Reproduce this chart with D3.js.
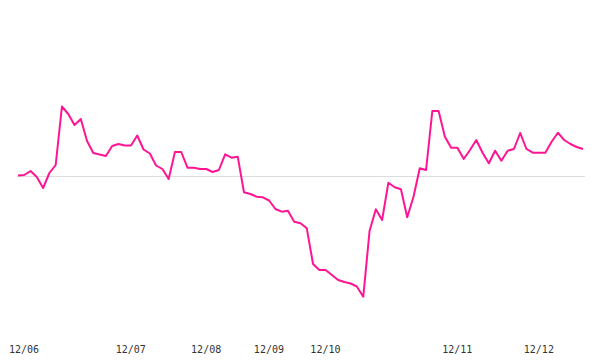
<!DOCTYPE html>
<html>
<head>
<meta charset="utf-8">
<script src="https://cdn.jsdelivr.net/npm/d3@7"></script>
<style>
  html, body { margin: 0; padding: 0; background: #fff; }
  svg { display: block; }
</style>
</head>
<body>
<svg id="chart" width="600" height="360"></svg>
<script>
// Relative change series (one value per data point)
const values = [
  0.05, 0.1, 0.5, -0.1, -1.2, 0.3, 1.1, 6.95, 6.2, 5.1,
  5.7, 3.5, 2.3, 2.15, 2.0, 3.0, 3.2, 3.05, 3.05, 4.05,
  2.65, 2.25, 1.05, 0.7, -0.3, 2.4, 2.4, 0.83, 0.83, 0.7,
  0.7, 0.4, 0.6, 2.17, 1.83, 1.93, -1.63, -1.8, -2.07, -2.13,
  -2.45, -3.3, -3.57, -3.47, -4.57, -4.73, -5.23, -8.8, -9.4, -9.4,
  -9.9, -10.4, -10.6, -10.75, -11.07, -12.07, -5.5, -3.33, -4.4, -0.67,
  -1.13, -1.33, -4.13, -2.07, 0.77, 0.6, 6.5, 6.5, 3.93, 2.83,
  2.83, 1.7, 2.6, 3.6, 2.33, 1.27, 2.53, 1.53, 2.53, 2.7,
  4.3, 2.7, 2.33, 2.33, 2.33, 3.43, 4.33, 3.6, 3.2, 2.9,
  2.7
];
// Tick labels and the data index at which each appears
const tickLabels = ["12/06", "12/07", "12/08", "12/09", "12/10", "12/11", "12/12"];
const tickIndices = [1, 18, 30, 40, 49, 70, 83];

const svg = d3.select("#chart");

const x = d3.scaleLinear().domain([0, values.length - 1]).range([18, 583]);
const y = d3.scaleLinear().domain([-12, 12]).range([296, 56]);

// zero baseline
svg.append("line")
  .attr("x1", 17).attr("x2", 585)
  .attr("y1", Math.round(y(0)) + 0.5).attr("y2", Math.round(y(0)) + 0.5)
  .attr("stroke", "#dddddd")
  .attr("stroke-width", 1);

// series line
const line = d3.line()
  .x((d, i) => x(i))
  .y(d => y(d));

svg.append("path")
  .datum(values)
  .attr("d", line)
  .attr("fill", "none")
  .attr("stroke", "#ff1493")
  .attr("stroke-width", 2)
  .attr("stroke-linejoin", "round");

// x axis labels
const labelMap = new Map(tickIndices.map((t, k) => [t, tickLabels[k]]));
const axis = d3.axisBottom(x)
  .tickValues(tickIndices)
  .tickFormat(d => labelMap.get(d))
  .tickSize(0)
  .tickPadding(0);

const g = svg.append("g")
  .attr("transform", "translate(-0.7,344)")
  .call(axis);
g.select(".domain").remove();
g.selectAll("text")
  .attr("font-family", "'DejaVu Sans Mono', monospace")
  .attr("font-size", 10)
  .attr("fill", "#333")
  .attr("dy", "0.9em");
</script>
</body>
</html>
